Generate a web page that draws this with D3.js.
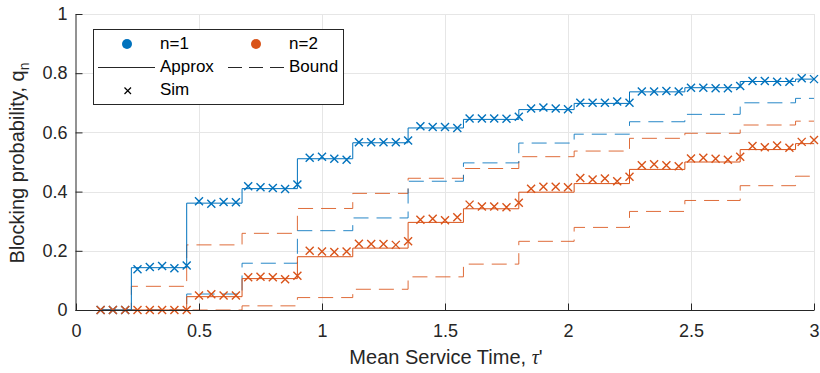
<!DOCTYPE html>
<html>
<head>
<meta charset="utf-8">
<script src="https://cdn.jsdelivr.net/npm/d3@7/dist/d3.min.js"></script>
<style>
  html, body { margin: 0; padding: 0; background: #fff; }
  svg { display: block; font-family: "Liberation Sans", Arial, Helvetica, sans-serif; }
</style>
</head>
<body>
<svg id="chart" width="820" height="373"></svg>
<script>
// Step breakpoints (mean service time) for the analytical curves
const stepTau = [0.1, 0.225, 0.45, 0.675, 0.9, 1.125, 1.35, 1.575, 1.8, 2.025, 2.25, 2.475, 2.7, 2.925, 3.0];
const approxN1 = [0, 0.143, 0.361, 0.41, 0.511, 0.565, 0.615, 0.644, 0.677, 0.698, 0.737, 0.751, 0.772, 0.78, 0.78];
const boundN1  = [0, 0, 0.054, 0.158, 0.268, 0.311, 0.435, 0.497, 0.564, 0.594, 0.636, 0.661, 0.70, 0.715, 0.715];
const approxN2 = [0, 0, 0.045, 0.106, 0.18, 0.209, 0.296, 0.342, 0.398, 0.427, 0.475, 0.50, 0.542, 0.562, 0.562];
const boundN2Upper = [0, 0.08, 0.22, 0.259, 0.343, 0.394, 0.445, 0.478, 0.518, 0.537, 0.58, 0.597, 0.625, 0.638, 0.638];
const boundN2Lower = [0, 0, 0, 0.014, 0.042, 0.07, 0.112, 0.155, 0.232, 0.279, 0.333, 0.37, 0.42, 0.452, 0.452];

// Simulation sample points
const simTau = [0.1, 0.15, 0.2, 0.25, 0.3, 0.35, 0.4, 0.45, 0.5, 0.55, 0.6, 0.65, 0.7, 0.75, 0.8, 0.85, 0.9, 0.95,
  1.0, 1.05, 1.1, 1.15, 1.2, 1.25, 1.3, 1.35, 1.4, 1.45, 1.5, 1.55, 1.6, 1.65, 1.7, 1.75, 1.8, 1.85, 1.9, 1.95,
  2.0, 2.05, 2.1, 2.15, 2.2, 2.25, 2.3, 2.35, 2.4, 2.45, 2.5, 2.55, 2.6, 2.65, 2.7, 2.75, 2.8, 2.85, 2.9, 2.95, 3.0];
const simN1 = [0, 0, 0, 0.138, 0.145, 0.149, 0.141, 0.150, 0.367, 0.359, 0.365, 0.364, 0.418, 0.415, 0.412, 0.409, 0.424,
  0.514, 0.518, 0.511, 0.508, 0.567, 0.567, 0.567, 0.567, 0.573, 0.621, 0.618, 0.618, 0.615, 0.647, 0.647, 0.647, 0.646, 0.653,
  0.681, 0.684, 0.681, 0.678, 0.70, 0.70, 0.70, 0.704, 0.70, 0.738, 0.738, 0.740, 0.738, 0.751, 0.751, 0.749, 0.749, 0.757,
  0.774, 0.774, 0.771, 0.771, 0.783, 0.78];
const simN2 = [0, 0, 0, 0, 0, 0, 0, 0, 0.049, 0.053, 0.049, 0.049, 0.111, 0.112, 0.111, 0.104, 0.116,
  0.20, 0.198, 0.196, 0.198, 0.224, 0.223, 0.223, 0.22, 0.232, 0.305, 0.308, 0.303, 0.313, 0.356, 0.35, 0.35, 0.347, 0.362,
  0.41, 0.416, 0.416, 0.415, 0.446, 0.441, 0.444, 0.435, 0.45, 0.489, 0.492, 0.489, 0.486, 0.512, 0.514, 0.511, 0.508, 0.518,
  0.554, 0.55, 0.556, 0.548, 0.568, 0.574];

const xTicks = [0, 0.5, 1, 1.5, 2, 2.5, 3];
const yTicks = [0, 0.2, 0.4, 0.6, 0.8, 1];

const blue = "#0072BD", red = "#D95319", axisCol = "#262626";

const svg = d3.select("#chart");
const m = { left: 76, right: 814, top: 14, bottom: 310 };
const x = d3.scaleLinear().domain([0, 3]).range([m.left, m.right]);
const y = d3.scaleLinear().domain([0, 1]).range([m.bottom, m.top]);

svg.append("rect").attr("width", 820).attr("height", 373).attr("fill", "#fff");

// grid
const grid = svg.append("g").attr("stroke", "#e6e6e6").attr("stroke-width", 1);
grid.selectAll(".gx").data(xTicks.slice(1)).join("line")
  .attr("x1", d => Math.round(x(d)) + 0.5).attr("x2", d => Math.round(x(d)) + 0.5)
  .attr("y1", m.top).attr("y2", m.bottom);
grid.selectAll(".gy").data(yTicks.slice(1)).join("line")
  .attr("y1", d => Math.round(y(d)) + 0.5).attr("y2", d => Math.round(y(d)) + 0.5)
  .attr("x1", m.left).attr("x2", m.right);

// step curves
const stepLine = d3.line().curve(d3.curveStepAfter)
  .x(d => x(d[0])).y(d => y(d[1]));
function drawStep(vals, color, dashed) {
  svg.append("path")
    .datum(stepTau.map((t, i) => [t, vals[i]]))
    .attr("fill", "none")
    .attr("stroke", color)
    .attr("stroke-width", 1)
    .attr("stroke-opacity", dashed ? 0.85 : 1)
    .attr("stroke-dasharray", dashed ? "15,8" : null)
    .attr("d", stepLine);
}
drawStep(boundN2Lower, red, true);
drawStep(boundN2Upper, red, true);
drawStep(boundN1, blue, true);
drawStep(approxN2, red, false);
drawStep(approxN1, blue, false);

// simulation crosses
function drawCrosses(vals, color) {
  const s = 4;
  const g = svg.append("g").attr("stroke", color).attr("stroke-width", 1.4);
  simTau.forEach((t, i) => {
    const cx = x(t), cy = y(vals[i]);
    g.append("path").attr("d", `M${cx - s},${cy - s}L${cx + s},${cy + s}M${cx - s},${cy + s}L${cx + s},${cy - s}`);
  });
}
drawCrosses(simN1, blue);
drawCrosses(simN2, red);

// axes (inward ticks)
const xAxis = d3.axisBottom(x).tickValues(xTicks).tickSizeInner(-7).tickSizeOuter(0)
  .tickPadding(14).tickFormat(d3.format("~g"));
const yAxis = d3.axisLeft(y).tickValues(yTicks).tickSizeInner(-7).tickSizeOuter(0)
  .tickPadding(8).tickFormat(d3.format("~g"));
const gx = svg.append("g").attr("transform", `translate(0,${m.bottom + 0.5})`).call(xAxis);
const gy = svg.append("g").attr("transform", `translate(${m.left - 0.5},0)`).call(yAxis);
[gx, gy].forEach(g => {
  g.selectAll("path, line").attr("stroke", axisCol).attr("stroke-width", 1);
  g.selectAll("text").attr("fill", axisCol).attr("font-size", 18)
    .attr("font-family", "'Liberation Sans', Arial, sans-serif");
});
gx.select(".domain").attr("d", `M${m.left - 0.5},0H${m.right}`);

// axis labels
const xl = svg.append("text").attr("x", 446).attr("y", 364).attr("text-anchor", "middle")
  .attr("font-size", 20).attr("fill", axisCol);
xl.append("tspan").text("Mean Service Time, ");
xl.append("tspan").attr("font-family", "'Liberation Serif', 'DejaVu Serif', serif").attr("font-style", "italic").text("τ");
xl.append("tspan").text("'");

const yl = svg.append("text").attr("transform", "translate(24,163) rotate(-90)").attr("text-anchor", "middle")
  .attr("font-size", 20).attr("fill", axisCol);
yl.append("tspan").text("Blocking probability, q");
yl.append("tspan").attr("font-size", 14).attr("dy", 5).text("n");

// legend
const lg = svg.append("g");
lg.append("rect").attr("x", 93.5).attr("y", 29.5).attr("width", 250).attr("height", 75)
  .attr("fill", "#fff").attr("stroke", axisCol).attr("stroke-width", 1);
const lt = (tx, ty, s) => lg.append("text").attr("x", tx).attr("y", ty).attr("font-size", 17)
  .attr("fill", "#000").attr("dominant-baseline", "middle").text(s);
lg.append("circle").attr("cx", 127).attr("cy", 44).attr("r", 5).attr("fill", blue);
lt(160, 45, "n=1");
lg.append("circle").attr("cx", 256).attr("cy", 44).attr("r", 5).attr("fill", red);
lt(289, 45, "n=2");
lg.append("line").attr("x1", 98).attr("x2", 155).attr("y1", 67.5).attr("y2", 67.5)
  .attr("stroke", axisCol).attr("stroke-width", 1);
lt(160, 68, "Approx");
lg.append("line").attr("x1", 228).attr("x2", 284).attr("y1", 67.5).attr("y2", 67.5)
  .attr("stroke", axisCol).attr("stroke-width", 1).attr("stroke-dasharray", "14,7");
lt(289, 68, "Bound");
lg.append("path").attr("d", "M124.5,87.5L131,94M124.5,94L131,87.5").attr("stroke", "#000").attr("stroke-width", 1.2);
lt(160, 91, "Sim");
</script>
</body>
</html>
